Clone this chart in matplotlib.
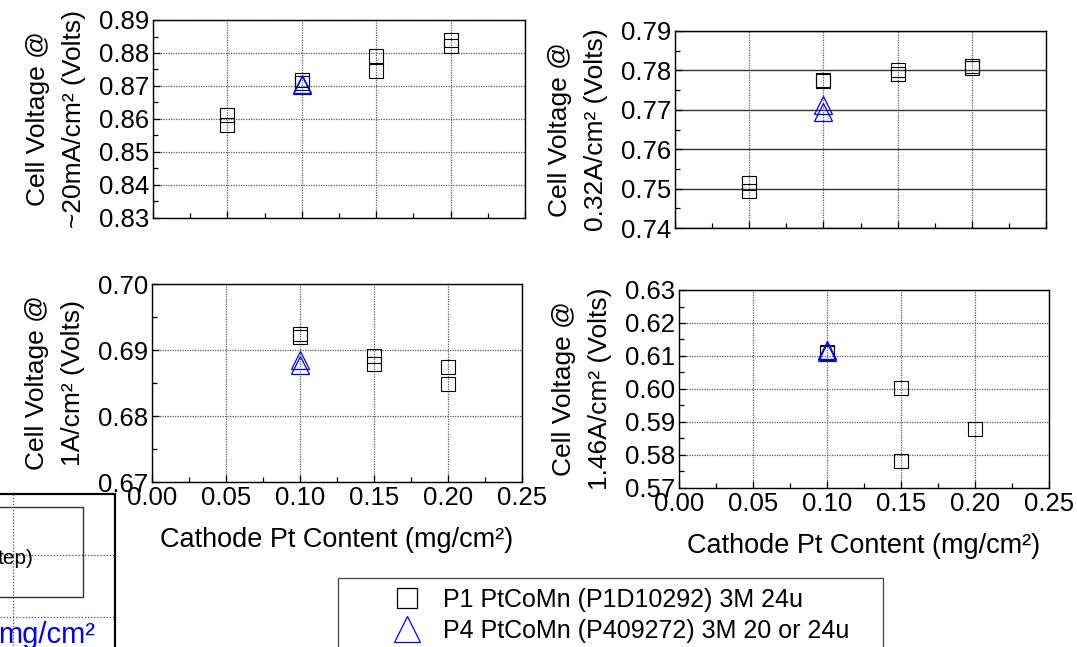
import matplotlib
matplotlib.use('Agg')
import matplotlib.pyplot as plt
from matplotlib.ticker import MultipleLocator, FormatStrFormatter
from matplotlib.patches import Rectangle
from matplotlib.lines import Line2D

plt.rcParams['font.family'] = ['Liberation Sans', 'DejaVu Sans']

# ---- data (x = cathode Pt content, y = cell voltage)
# ~20 mA/cm2
p1_x_20mA = [0.05, 0.05, 0.10, 0.10, 0.15, 0.15, 0.20, 0.20]
p1_v_20mA = [0.8611, 0.8582, 0.8719, 0.8709, 0.8791, 0.8744, 0.8839, 0.8821]
p4_x_20mA = [0.10, 0.10]
p4_v_20mA = [0.8706, 0.8703]
# 0.32 A/cm2
p1_x_032 = [0.05, 0.05, 0.10, 0.10, 0.15, 0.15, 0.20, 0.20]
p1_v_032 = [0.7514, 0.7494, 0.7776, 0.7773, 0.7801, 0.7791, 0.7811, 0.7805]
p4_x_032 = [0.10, 0.10]
p4_v_032 = [0.7713, 0.7695]
# 1 A/cm2
p1_x_1A = [0.10, 0.10, 0.15, 0.15, 0.20, 0.20]
p1_v_1A = [0.6925, 0.6920, 0.6891, 0.6879, 0.6874, 0.6848]
p4_x_1A = [0.10, 0.10]
p4_v_1A = [0.6885, 0.6877]
# 1.46 A/cm2
p1_x_146 = [0.10, 0.10, 0.15, 0.15, 0.20]
p1_v_146 = [0.6113, 0.6109, 0.6004, 0.5782, 0.5878]
p4_x_146 = [0.10, 0.10]
p4_v_146 = [0.6117, 0.6112]

series_names = ['P1 PtCoMn (P1D10292) 3M 24u',
                'P4 PtCoMn (P409272) 3M 20 or 24u']
ylabels = ['Cell Voltage @\n~20mA/cm² (Volts)',
           'Cell Voltage @\n0.32A/cm² (Volts)',
           'Cell Voltage @\n1A/cm² (Volts)',
           'Cell Voltage @\n1.46A/cm² (Volts)']
xlabel = 'Cathode Pt Content (mg/cm²)'

W, H = 1077.0, 647.0
fig = plt.figure(figsize=(W / 100, H / 100), dpi=100)


def px_box(l, t, r, b):
    # pixel box -> figure fraction rect
    return [l / W, 1 - b / H, (r - l) / W, (b - t) / H]


grid_kw = dict(color='0.35', linewidth=0.9, linestyle=(0, (1, 1)))


def panel(rect, xs1, ys1, xs4, ys4, ylo, yhi, ystep, ylabel,
          solid_hgrid=False, show_x=True):
    ax = fig.add_axes(rect)
    ax.set_xlim(0, 0.25)
    ax.set_ylim(ylo, yhi)
    ax.xaxis.set_major_locator(MultipleLocator(0.05))
    ax.xaxis.set_minor_locator(MultipleLocator(0.025))
    ax.yaxis.set_major_locator(MultipleLocator(ystep))
    ax.yaxis.set_minor_locator(MultipleLocator(ystep / 2))
    ax.xaxis.set_major_formatter(FormatStrFormatter('%.2f'))
    ax.yaxis.set_major_formatter(FormatStrFormatter('%.2f'))
    ax.tick_params(which='both', direction='in', top=False, right=False,
                   labelsize=18.5, pad=3, width=0.9)
    ax.tick_params(which='major', length=5)
    ax.tick_params(which='minor', length=3.5)
    if not show_x:
        ax.tick_params(axis='x', labelbottom=False)
    for sp in ax.spines.values():
        sp.set_linewidth(1.0)
    ax.set_axisbelow(True)
    ax.xaxis.grid(True, **grid_kw)
    if solid_hgrid:
        ax.yaxis.grid(True, color='0.2', linewidth=1.0, linestyle='-')
    else:
        ax.yaxis.grid(True, **grid_kw)
    ax.plot(xs1, ys1, ls='none', marker='s', ms=10, mfc='none',
            mec='black', mew=0.8)
    ax.plot(xs4, ys4, ls='none', marker='^', ms=13, mfc='none',
            mec='#0000ff', mew=0.9)
    ax.set_ylabel(ylabel, fontsize=19, linespacing=1.65, labelpad=9)
    if show_x:
        ax.set_xlabel(xlabel, fontsize=19.5, labelpad=12)
    return ax


panel(px_box(153, 20, 525, 218), p1_x_20mA, p1_v_20mA, p4_x_20mA, p4_v_20mA,
      0.83, 0.89, 0.01, ylabels[0], show_x=False)
panel(px_box(675, 31, 1046, 228), p1_x_032, p1_v_032, p4_x_032, p4_v_032,
      0.74, 0.79, 0.01, ylabels[1], solid_hgrid=True, show_x=False)
panel(px_box(152, 284, 522, 482), p1_x_1A, p1_v_1A, p4_x_1A, p4_v_1A,
      0.67, 0.70, 0.01, ylabels[2])
panel(px_box(679, 290, 1049, 488), p1_x_146, p1_v_146, p4_x_146, p4_v_146,
      0.57, 0.63, 0.01, ylabels[3])

# ---- decoration layer in pixel coordinates (cut-off box at lower left, legend frame)
deco = fig.add_axes([0, 0, 1, 1], zorder=-1)
deco.set_xlim(0, W)
deco.set_ylim(H, 0)
deco.axis('off')
dot = dict(color='0.3', linewidth=0.9, linestyle=(0, (1, 1.5)))
deco.plot([13, 13], [494, H], **dot)
deco.plot([0, 115], [555, 555], **dot)
deco.plot([0, 115], [617, 617], **dot)
deco.add_patch(Rectangle((-5, 507), 88, 90, facecolor='white',
                         edgecolor='0.2', linewidth=1.0))
deco.add_patch(Rectangle((-5, 494), 120, 200, facecolor='none',
                         edgecolor='black', linewidth=1.6))
deco.text(33, 558, 'tep)', fontsize=15, ha='right', va='center')
deco.text(95, 643, 'mg/cm²', fontsize=21, color='#0000ff',
          ha='right', va='baseline')
deco.add_patch(Rectangle((338, 578), 545, 120, facecolor='white',
                         edgecolor='0.25', linewidth=0.9))

handles = [Line2D([], [], ls='none', marker='s', ms=14.5, mfc='none',
                  mec='black', mew=0.9),
           Line2D([], [], ls='none', marker='^', ms=19, mfc='none',
                  mec='#0000ff', mew=0.9)]
fig.legend(handles, series_names, loc='upper left',
           bbox_to_anchor=(394 / W, 1 - 588 / H), frameon=False,
           fontsize=18, borderpad=0, borderaxespad=0, handlelength=1.0,
           handletextpad=0.95, labelspacing=0.28)

fig.savefig('out.png', dpi=100)
